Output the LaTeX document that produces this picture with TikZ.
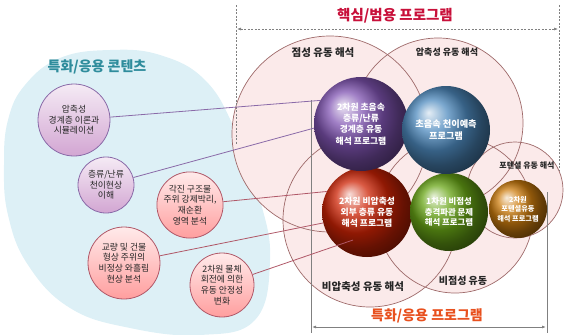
\documentclass[tikz,border=0pt]{standalone}
\usepackage{fontspec}
\setmainfont{Noto Sans CJK KR}
\usetikzlibrary{arrows.meta,shadings,calc}
\definecolor{blobc}{HTML}{DDF0F6}
\definecolor{bigfillc}{HTML}{FBEAEA}
\definecolor{bigline}{HTML}{9E6A6A}
\definecolor{titlered}{HTML}{C8103A}
\definecolor{titleorange}{HTML}{E8501E}
\definecolor{teal}{HTML}{2E8C9C}
\definecolor{purpleline}{HTML}{8A6AA8}
\definecolor{pinkline}{HTML}{B05868}
\definecolor{bracketc}{HTML}{808080}
\definecolor{ballpurple}{RGB}{128,84,178}
\definecolor{ballblue}{RGB}{78,138,190}
\definecolor{ballred}{RGB}{205,35,5}
\definecolor{ballgreen}{RGB}{104,165,22}
\definecolor{ballorange}{RGB}{205,125,15}
\begin{document}
\begin{tikzpicture}[x=1pt,y=-1pt,
  bigc/.style={draw=bigline,line width=0.7pt},
  lab/.style={text=black!85,inner sep=0pt},
  smallp/.style={circle,draw=purpleline,line width=0.8pt,top color=violet!8,bottom color=violet!35!white,
     align=center,inner sep=0pt,text=black!85,font=\fontsize{8.8}{10.6}\selectfont},
  smallr/.style={circle,draw=pinkline,line width=0.8pt,top color=red!8,bottom color=red!38!white,
     align=center,inner sep=0pt,text=black!85,font=\fontsize{8.8}{10.6}\selectfont},
  sphere/.style={circle,shading=ball,align=center,inner sep=0pt,text=white,font=\bfseries\fontsize{8.8}{11.2}\selectfont},
  conn/.style={line width=0.8pt},
  dashl/.style={bracketc,line width=0.6pt,dash pattern=on 2pt off 1.5pt},
  solidl/.style={bracketc,line width=0.8pt},
  tip/.style={{Latex[length=4pt,width=3pt]}-{Latex[length=4pt,width=3pt]}}
]
\useasboundingbox (0,0) rectangle (571,335);
% light blue blob
\fill[blobc] plot[smooth cycle,tension=0.7] coordinates {(4,165) (8,120) (25,85) (60,58) (110,50) (160,55) (205,80) (235,130) (260,200) (270,260) (255,320) (200,335) (130,328) (70,308) (28,265) (8,215)};
% big circles
\fill[bigfillc] (330,134) circle[radius=98pt] (438,123) circle[radius=85pt] (515,190) circle[radius=48pt]
  (370,220) circle[radius=87pt] (455,215) circle[radius=78pt];
\draw[bigc] (330,134) circle[radius=98pt];
\draw[bigc] (438,123) circle[radius=85pt];
\draw[bigc] (515,190) circle[radius=48pt];
\draw[bigc] (370,220) circle[radius=87pt];
\draw[bigc] (455,215) circle[radius=78pt];
% circle labels
\node[lab,font=\bfseries\fontsize{10.5}{12}\selectfont] (lv) at (323,53) {점성 유동 해석};
\node[lab,font=\bfseries\fontsize{9}{11}\selectfont] (lc) at (447,52) {압축성 유동 해석};
\node[lab,font=\bfseries\fontsize{8}{10}\selectfont] (lp) at (527,166) {포텐셜 유동 해석};
\node[lab,font=\bfseries\fontsize{10.5}{12}\selectfont] (li) at (363,287) {비압축성 유동 해석};
\node[lab,font=\bfseries\fontsize{10}{12}\selectfont] (ln) at (463,281) {비점성 유동};
% titles
\node[text=titlered,font=\bfseries\fontsize{14.5}{16}\selectfont] (t1) at (395,16) {핵심/범용 프로그램};
\node[text=titleorange,font=\bfseries\fontsize{14}{16}\selectfont] (t2) at (427,316) {특화/응용 프로그램};
\node[text=teal,font=\bfseries\fontsize{14}{16}\selectfont] (t3) at (97,67) {특화/응용 콘텐츠};
% brackets
\coordinate (dl1) at (236,5); \coordinate (dl2) at (236,145);
\coordinate (dr1) at (559,5); \coordinate (dr2) at (559,170);
\coordinate (ha) at (237,29); \coordinate (hb) at (558,29);
\draw[dashl] (dl1) -- (dl2);
\draw[dashl] (dr1) -- (dr2);
\draw[dashl,tip] (ha) -- (hb);
\coordinate (sl1) at (311,100); \coordinate (sl2) at (311,333);
\coordinate (sr1) at (547,192); \coordinate (sr2) at (547,333);
\coordinate (sa) at (312,327); \coordinate (sb) at (546,327);
\draw[solidl] (sl1) -- (sl2);
\draw[solidl] (sr1) -- (sr2);
\draw[solidl,tip] (sa) -- (sb);
% spheres
\node[sphere,ball color=ballred,minimum size=90pt] (rs) at (367,212) {2차원 비압축성\\외부 층류 유동\\해석 프로그램};
\node[sphere,ball color=ballgreen,minimum size=78pt,font=\bfseries\fontsize{8.4}{10.6}\selectfont] (gs) at (449,212) {1차원 비점성\\충격파관 문제\\해석 프로그램};
\node[sphere,ball color=ballorange,minimum size=58pt,font=\bfseries\fontsize{7.2}{9.5}\selectfont] (os) at (518,209) {2차원\\포텐셜유동\\해석 프로그램};
\node[sphere,ball color=ballpurple,minimum size=94pt] (ps) at (361,124) {2차원 초음속\\층류/난류\\경계층 유동\\해석 프로그램};
\node[sphere,ball color=ballblue,minimum size=88pt,font=\bfseries\fontsize{9.2}{12}\selectfont] (bs) at (446,130) {초음속 천이예측\\프로그램};
% small circles
\node[smallp,minimum size=72pt] (c1) at (74,120) {압축성\\경계층 이론과\\시뮬레이션};
\node[smallp,minimum size=56pt] (c2) at (106,185) {층류/난류\\천이현상\\이해};
\node[smallr,minimum size=64pt] (c3) at (190,205) {각진 구조물\\주위 강제박리,\\재순환\\영역 분석};
\node[smallr,minimum size=72pt] (c4) at (124,263) {교량 및 건물\\형상 주위의\\비정상 와흘림\\현상 분석};
\node[smallr,minimum size=64pt] (c5) at (222,285) {2차원 물체\\회전에 의한\\유동 안정성\\변화};
% connectors
\coordinate (e5) at ($(rs)+(-14,28)$);
\draw[conn,purpleline] (c1) -- (ps.150);
\draw[conn,purpleline] (c2) -- (ps.185);
\draw[conn,pinkline] (c3) -- (rs.153);
\draw[conn,pinkline] (c4) -- (rs.194);
\draw[conn,pinkline] (c5) -- (e5);
\end{tikzpicture}
\end{document}
